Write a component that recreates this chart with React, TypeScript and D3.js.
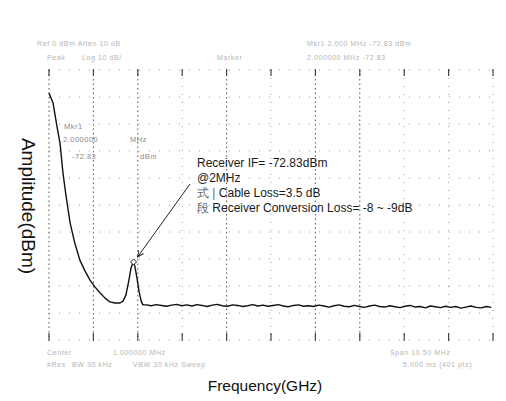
import React from "react";
import * as d3 from "d3";

// ---- data ----
const sweepFreq = [0, 0.095, 0.19, 0.26, 0.33, 0.40, 0.50, 0.61, 0.73, 0.85, 0.97, 1.09, 1.21, 1.32, 1.44, 1.56, 1.68, 1.75, 1.82, 1.89, 1.94, 1.99, 2.03, 2.08, 2.13, 2.18, 2.22];
const sweepAmp = [-8.5, -12.2, -21.1, -27, -38.1, -46.3, -56.7, -64.1, -70.4, -74.4, -77.8, -80.4, -82.6, -84.4, -85.9, -86.3, -86.3, -85.6, -83.3, -77.8, -73.3, -71.1, -72.6, -77.0, -82.2, -85.6, -87.0];
const floorStart = 2.3;
const floorStep = 0.12;
const floorAmp = [-87.0, -87.3, -86.9, -87.2, -87.5, -87.1, -86.8, -87.3, -87.0, -87.4, -86.9, -87.2, -87.6, -87.1, -86.8, -87.3, -87.5, -87.0, -87.2, -87.6, -87.3, -86.9, -87.4, -87.1, -87.5, -87.2, -86.9, -87.4, -87.7, -87.2, -87.0, -87.5, -87.3, -87.6, -87.1, -87.4, -87.8, -87.3, -87.0, -87.5, -87.7, -87.2, -87.6, -87.9, -87.4, -87.1, -87.6, -87.8, -87.3, -87.7, -88.0, -87.5, -87.2, -87.8, -87.6, -88.1, -87.4, -87.7, -88.0, -87.5, -87.9, -87.6, -88.2, -87.8, -87.4, -87.9, -88.1, -87.6, -87.9];
const markerFreq = 2.0;
const markerAmp = -71.1;

const xDomain = [0, 10.5];
const yDomain = [-100, 0];
const divisions = 10;

const annotationLines = [
  { lead: "", text: "Receiver IF= -72.83dBm" },
  { lead: "", text: "@2MHz" },
  { lead: "式 | ", text: "Cable Loss=3.5 dB" },
  { lead: "段 ", text: "Receiver Conversion Loss= -8 ~ -9dB" },
];

const headerTexts = [
  { t: "Ref 0 dBm       Atten 10 dB", x: 37, y: 46 },
  { t: "Mkr1    2.000 MHz     -72.83 dBm", x: 307, y: 46 },
  { t: "Peak", x: 47, y: 60 },
  { t: "Log  10 dB/", x: 82, y: 60 },
  { t: "Marker", x: 217, y: 60 },
  { t: "2.000000 MHz  -72.83", x: 307, y: 60 },
];
const footerTexts = [
  { t: "Center", x: 47, y: 355 },
  { t: "1.000000 MHz", x: 113, y: 355 },
  { t: "Span 10.50 MHz", x: 390, y: 355 },
  { t: "#Res", x: 47, y: 367 },
  { t: "BW 30 kHz", x: 72, y: 367 },
  { t: "VBW 30 kHz  Sweep", x: 133, y: 367 },
  { t: "5.000 ms (401 pts)", x: 403, y: 367 },
];
const markerReadout = [
  { t: "Mkr1", x: 64, y: 129 },
  { t: "2.000000", x: 63, y: 142 },
  { t: "MHz", x: 130, y: 142 },
  { t: "-72.83", x: 72, y: 159 },
  { t: "dBm", x: 140, y: 159 },
];

export default function App() {
  const x = d3.scaleLinear().domain(xDomain).range([49, 493]);
  const y = d3.scaleLinear().domain(yDomain).range([340, 70]);

  const pts: [number, number][] = sweepFreq.map((f, i) => [f, sweepAmp[i]]);
  floorAmp.forEach((a, i) => pts.push([floorStart + i * floorStep, a]));
  const line = d3
    .line<[number, number]>()
    .x((d) => x(d[0]))
    .y((d) => y(d[1]))
    .curve(d3.curveLinear);

  const gx = d3.range(divisions + 1).map((i) => xDomain[0] + ((xDomain[1] - xDomain[0]) * i) / divisions);
  const gy = d3.range(divisions + 1).map((i) => yDomain[0] + ((yDomain[1] - yDomain[0]) * i) / divisions);
  const darkV = new Set([0, 1, 2, 4, 6, 7]);

  const mx = x(markerFreq);
  const my = y(markerAmp);
  const font = "'Liberation Sans', Arial, sans-serif";

  return (
    <svg
      width={506}
      height={401}
      style={{ position: "absolute", left: 0, top: 0, background: "#fff" }}
      fontFamily={font}
    >
      <defs>
        <marker id="arr" viewBox="0 0 10 10" refX="9" refY="5" markerWidth="7" markerHeight="7" orient="auto-start-reverse">
          <path d="M0,1 L9,5 L0,9" fill="none" stroke="#222" strokeWidth="1.4" />
        </marker>
      </defs>

      {/* horizontal grid */}
      {gy.map((v, i) => (
        <line key={"h" + i} x1={49} x2={493} y1={y(v)} y2={y(v)} stroke="#9a9a9a" strokeWidth={1} strokeDasharray="1,9" />
      ))}
      {/* vertical grid */}
      {gx.map((v, i) => (
        <g key={"v" + i}>
          <line
            x1={x(v)}
            x2={x(v)}
            y1={70}
            y2={340}
            stroke={darkV.has(i) ? "#555" : "#999"}
            strokeWidth={1}
            strokeDasharray={darkV.has(i) ? "1.5,3" : "1,7"}
          />
          <line x1={x(v)} x2={x(v)} y1={69} y2={76} stroke="#444" strokeWidth={1.2} />
          <line x1={x(v)} x2={x(v)} y1={333} y2={341} stroke="#444" strokeWidth={1.2} />
        </g>
      ))}

      {/* faint instrument readouts */}
      {[...headerTexts, ...footerTexts].map((d, i) => (
        <text key={"ht" + i} x={d.x} y={d.y} fontSize={7} fill="#b5b5b5" letterSpacing={0.6}>
          {d.t}
        </text>
      ))}
      {markerReadout.map((d, i) => (
        <text key={"mr" + i} x={d.x} y={d.y} fontSize={7.5} fill="#8a8a8a" letterSpacing={0.5}>
          {d.t}
        </text>
      ))}

      {/* trace */}
      <path d={line(pts) || ""} fill="none" stroke="#111" strokeWidth={1.4} strokeLinejoin="round" />

      {/* marker */}
      <path d={`M${mx},${my - 3} L${mx + 3},${my} L${mx},${my + 3} L${mx - 3},${my} Z`} fill="#fff" stroke="#222" strokeWidth={1} />

      {/* leader */}
      <line x1={190} y1={184} x2={mx + 4} y2={my - 5} stroke="#222" strokeWidth={1} markerEnd="url(#arr)" />

      {/* annotation */}
      {annotationLines.map((d, i) => (
        <text key={"a" + i} x={197} y={167 + i * 15} fontSize={12} fill="#1a1a1a">
          {d.lead && <tspan fill="#666">{d.lead}</tspan>}
          {d.text}
        </text>
      ))}

      {/* axis titles */}
      <text x={265} y={391} fontSize={15.5} textAnchor="middle" fill="#111">
        Frequency(GHz)
      </text>
      <text transform="translate(22,206) rotate(90)" fontSize={19} textAnchor="middle" fill="#111">
        Amplitude(dBm)
      </text>
    </svg>
  );
}
